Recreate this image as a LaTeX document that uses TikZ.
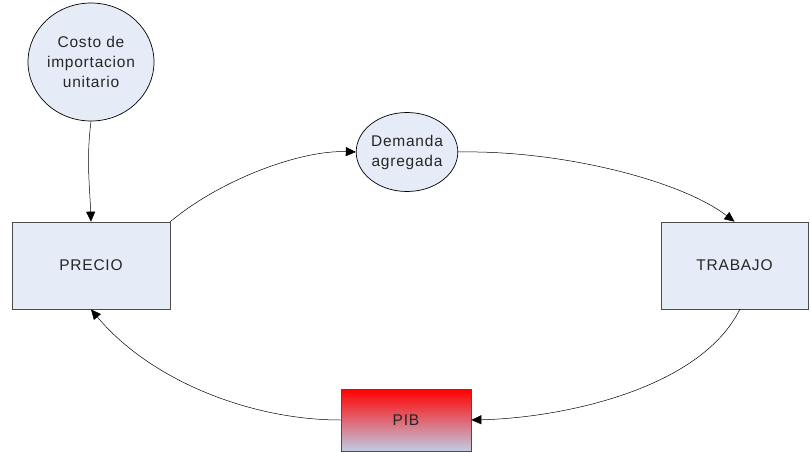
\documentclass[tikz,border=0pt]{standalone}
\usepackage{fontspec}
\setmainfont{Liberation Sans}[LetterSpace=5]
\usetikzlibrary{shapes.geometric,arrows.meta}
\definecolor{boxfill}{HTML}{E6ECF7}
\definecolor{pibbot}{HTML}{C0CCE4}
\tikzset{
  txt/.style={font=\fontsize{15.5}{20}\selectfont,text=black!85},
  bubble/.style={ellipse,draw=black,fill=boxfill,line width=0.7pt,align=center,inner sep=0pt,txt},
  block/.style={rectangle,draw=black!70,fill=boxfill,line width=0.7pt,inner sep=0pt,txt},
  link/.style={-{Triangle[length=10pt,width=9pt]},line width=0.5pt}
}
\begin{document}
\begin{tikzpicture}[x=1pt,y=-1pt]
\useasboundingbox (0,0) rectangle (811,452);
\node[bubble,minimum width=126pt,minimum height=118pt] (costo) at (91,62) {Costo de\\importacion\\unitario};
\node[bubble,minimum width=95pt,minimum height=79pt] (dem) at (407,152) {Demanda\\agregada};
\node[block,minimum width=158pt,minimum height=87pt] (precio) at (91,265.5) {PRECIO};
\node[block,minimum width=147pt,minimum height=87pt] (trab) at (734.5,265.5) {TRABAJO};
\node[rectangle,draw=black!70,line width=0.7pt,top color=red,bottom color=pibbot,minimum width=130pt,minimum height=62pt,txt] (pib) at (406,420) {PIB};
\draw[link] (costo.south) .. controls (86,160) and (90,190) .. (precio.north);
\draw[link] (precio.north east) .. controls (220,180) and (300,150) .. (dem.west);
\draw[link] (dem.east) .. controls (560,150) and (680,180) .. (trab.north);
\draw[link] (740,309) .. controls (700,390) and (560,418) .. (pib.east);
\draw[link] (pib.west) .. controls (250,420) and (150,380) .. (precio.south);
\end{tikzpicture}
\end{document}
